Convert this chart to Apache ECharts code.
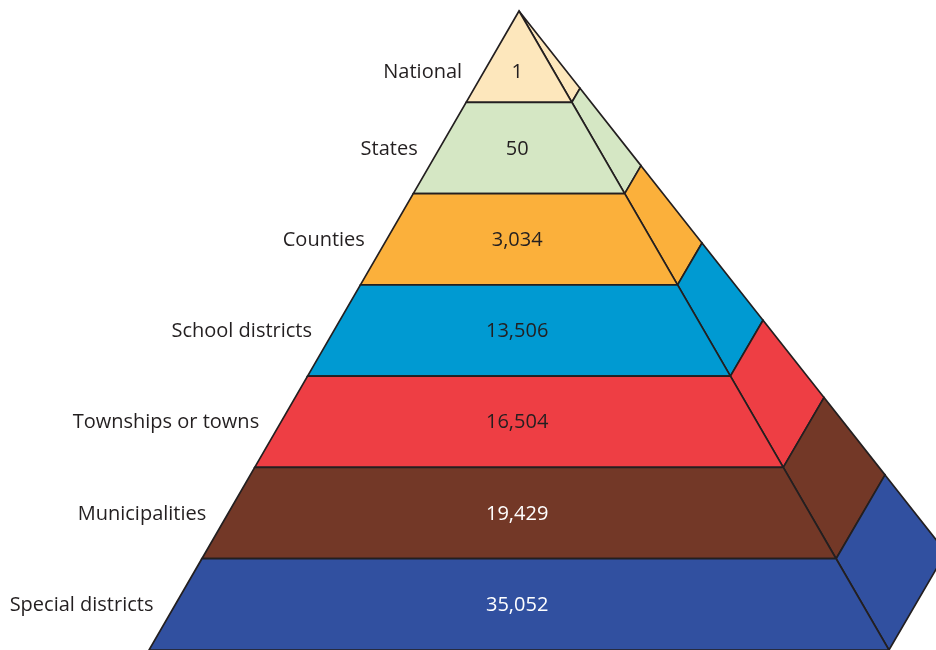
<!DOCTYPE html>
<html>
<head>
<meta charset="utf-8">
<script src="https://cdn.jsdelivr.net/npm/echarts@6/dist/echarts.min.js"></script>
<style>html,body{margin:0;padding:0;background:#fff}#c{width:936px;height:650px}</style>
</head>
<body>
<div id="c"></div>
<script>
// ---- data ----
var categories = ['National', 'States', 'Counties', 'School districts', 'Townships or towns', 'Municipalities', 'Special districts'];
var counts = [1, 50, 3034, 13506, 16504, 19429, 35052];
var valueLabels = ['1', '50', '3,034', '13,506', '16,504', '19,429', '35,052'];
var fillColors = ['#fde7bc', '#d5e7c4', '#fbb03b', '#009ad2', '#ee3e44', '#733827', '#3150a0'];
var textColors = ['#231f20', '#231f20', '#231f20', '#231f20', '#231f20', '#ffffff', '#ffffff'];

// ---- geometry (in level units) ----
var U = 91.6;            // px per level
var APEX_X = 519, APEX_Y = 11;
var S = 0.577;           // front half-width per level
var P = 0.089, Q = 0.153; // side face depth per level
var LABEL_GAP = 22;
var FONT = '"Open Sans", "Noto Sans", sans-serif';

var chart = echarts.init(document.getElementById('c'), null, {renderer: 'canvas'});

function renderItem(params, api) {
  var i = api.value(0);
  var a = i, b = i + 1;
  function c(x, y) { return api.coord([x, y]); }
  var front = [c(-S * a, a), c(S * a, a), c(S * b, b), c(-S * b, b)];
  var side = [c(S * a, a), c(S * a + P * a, a - Q * a), c(S * b + P * b, b - Q * b), c(S * b, b)];
  var labelLevel = i === 0 ? 0.66 : i + 0.5;
  var vPos = c(-0.02, labelLevel);
  var edge = c(-S * labelLevel, labelLevel);
  var lineStyle = {stroke: '#231f20', lineWidth: 1.7, lineJoin: 'miter'};
  return {
    type: 'group',
    children: [
      {type: 'polygon', shape: {points: side}, style: Object.assign({fill: fillColors[i]}, lineStyle)},
      {type: 'polygon', shape: {points: front}, style: Object.assign({fill: fillColors[i]}, lineStyle)},
      {type: 'text', x: vPos[0], y: vPos[1] + 1, style: {text: valueLabels[i], fill: textColors[i], font: '20px ' + FONT, align: 'center', verticalAlign: 'middle'}},
      {type: 'text', x: edge[0] - LABEL_GAP, y: edge[1] + 1, style: {text: categories[i], fill: '#231f20', font: '20px ' + FONT, align: 'right', verticalAlign: 'middle'}}
    ]
  };
}

var data = categories.map(function (name, i) { return [i, counts[i]]; });

chart.setOption({
  animation: false,
  backgroundColor: '#ffffff',
  grid: {left: 0, top: APEX_Y, width: 936, height: 7 * U, containLabel: false},
  xAxis: {type: 'value', min: -APEX_X / U, max: (936 - APEX_X) / U, show: false},
  yAxis: {type: 'value', min: 0, max: 7, inverse: true, show: false},
  series: [{
    type: 'custom',
    coordinateSystem: 'cartesian2d',
    renderItem: renderItem,
    clip: false,
    encode: {x: 1, y: 0},
    data: data
  }]
});
</script>
</body>
</html>
